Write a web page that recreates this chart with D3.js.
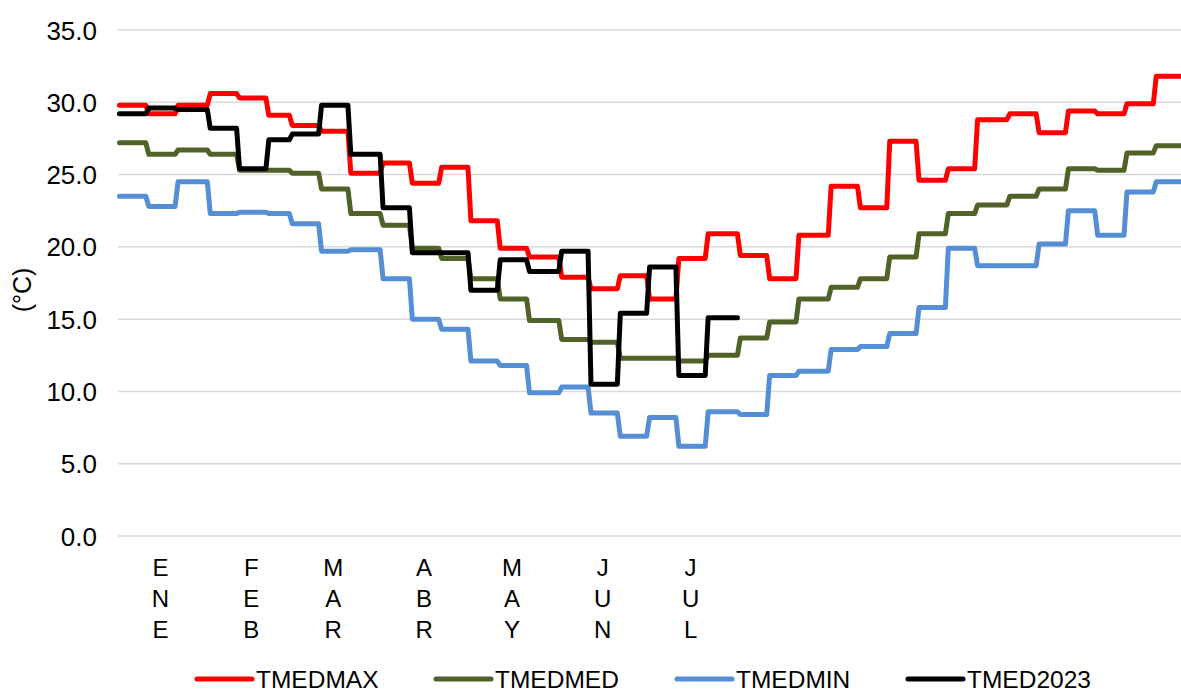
<!DOCTYPE html>
<html><head><meta charset="utf-8">
<script src="https://cdn.jsdelivr.net/npm/d3@7"></script>
<style>
body{margin:0;background:#fff}
svg{display:block}
text{font-family:"Liberation Sans",Arial,sans-serif;fill:#000}
</style>
</head><body>
<svg id="chart" width="1181" height="693"></svg>
<script>
// ---- data (36 dekads per year) ----
const monthLabels = ["ENE","FEB","MAR","ABR","MAY","JUN","JUL"];
const monthLengths = [31,28,31,30,31,30,31,31,30,31,30,31];
const yTicks = [0,5,10,15,20,25,30,35];
const seriesNames = ["TMEDMAX","TMEDMED","TMEDMIN","TMED2023"];
const tmedmax = [29.8,29.2,29.8,30.6,30.3,29.1,28.4,28.0,25.1,25.8,24.4,25.5,
                 21.8,19.9,19.3,17.9,17.1,18.0,16.4,19.2,20.9,19.4,17.8,20.8,
                 24.2,22.7,27.3,24.6,25.4,28.8,29.2,27.9,29.4,29.2,29.9,31.8];
const tmedmed = [27.2,26.4,26.7,26.4,25.3,25.3,25.1,24.0,22.3,21.5,19.9,19.2,
                 17.8,16.4,14.9,13.6,13.4,12.3,12.3,12.1,12.5,13.7,14.8,16.4,
                 17.2,17.8,19.3,20.9,22.3,22.9,23.5,24.0,25.4,25.3,26.5,27.0];
const tmedmin = [23.5,22.8,24.5,22.3,22.4,22.3,21.6,19.7,19.8,17.8,15.0,14.3,
                 12.1,11.8,9.9,10.3,8.5,6.9,8.2,6.2,8.6,8.4,11.1,11.4,
                 12.9,13.1,14.0,15.8,19.9,18.7,18.7,20.2,22.5,20.8,23.8,24.5];
const tmed2023 = [29.2,29.6,29.5,28.2,25.4,27.4,27.8,29.8,26.4,22.7,19.6,19.6,
                  17.0,19.1,18.3,19.7,10.5,15.4,18.6,11.1,15.1];
const colors = ["#FF0000","#4F6228","#558ED5","#000000"];

// ---- dekad calendar ----
const dekads = [];
let acc = 0;
monthLengths.forEach(len => {
  dekads.push({start: acc, end: acc + 10});
  dekads.push({start: acc + 10, end: acc + 20});
  dekads.push({start: acc + 20, end: acc + len});
  acc += len;
});
const monthStarts = d3.cumsum([0, ...monthLengths.slice(0, -1)]);

const svg = d3.select("#chart");
const x = d3.scaleLinear().domain([0, 365]).range([118, 1187]);
const y = d3.scaleLinear().domain([0, 35]).range([536, 30]);

// gridlines
svg.append("g").selectAll("line").data(yTicks).join("line")
  .attr("x1", 118).attr("x2", 1181)
  .attr("y1", d => y(d)).attr("y2", d => y(d))
  .attr("stroke", "#D9D9D9").attr("stroke-width", 1.5);

// y axis labels
const yAxis = d3.axisLeft(y).tickValues(yTicks).tickFormat(d3.format(".1f")).tickSize(0).tickPadding(0);
const ga = svg.append("g").attr("transform", "translate(97,0)").call(yAxis);
ga.select(".domain").remove();
ga.selectAll("text").attr("font-size", 26).attr("fill", "#000")
  .attr("font-family", '"Liberation Sans",Arial,sans-serif').attr("dy", "0.35em");

// y title
svg.append("text").attr("transform", "translate(31,290) rotate(-90)")
  .attr("text-anchor", "middle").attr("font-size", 25).text("(°C)");

// month labels (vertical letters)
const ml = svg.append("g").selectAll("text").data(monthLabels).join("text")
  .attr("text-anchor", "middle").attr("font-size", 24)
  .attr("x", (d, i) => x(monthStarts[i] + 14.5))
  .attr("y", 576);
ml.each(function(d) {
  const t = d3.select(this);
  d.split("").forEach((ch, k) => {
    t.append("tspan").attr("x", t.attr("x")).attr("dy", k === 0 ? 0 : 31).text(ch);
  });
});

// step lines
const line = d3.line().x(p => x(p[0])).y(p => y(p[1])).curve(d3.curveLinear);
function pts(vals) {
  const out = [];
  vals.forEach((v, i) => {
    out.push([dekads[i].start + 0.5, v]);
    out.push([dekads[i].end - 0.5, v]);
  });
  return out;
}
[tmedmax, tmedmed, tmedmin, tmed2023].forEach((vals, i) => {
  svg.append("path").attr("d", line(pts(vals)))
    .attr("fill", "none").attr("stroke", colors[i]).attr("stroke-width", 5)
    .attr("stroke-linejoin", "round").attr("stroke-linecap", "round");
});

// legend
const legX = [197, 436, 677, 908];
const lg = svg.append("g").selectAll("g").data(seriesNames).join("g")
  .attr("transform", (d, i) => `translate(${legX[i]},679)`);
lg.append("line").attr("x1", 0).attr("x2", 55).attr("y1", 0).attr("y2", 0)
  .attr("stroke", (d, i) => colors[i]).attr("stroke-width", 5).attr("stroke-linecap", "round");
lg.append("text").attr("x", 59).attr("y", 0).attr("dy", "0.35em")
  .attr("font-size", 24.5).text(d => d);
</script>
</body></html>
